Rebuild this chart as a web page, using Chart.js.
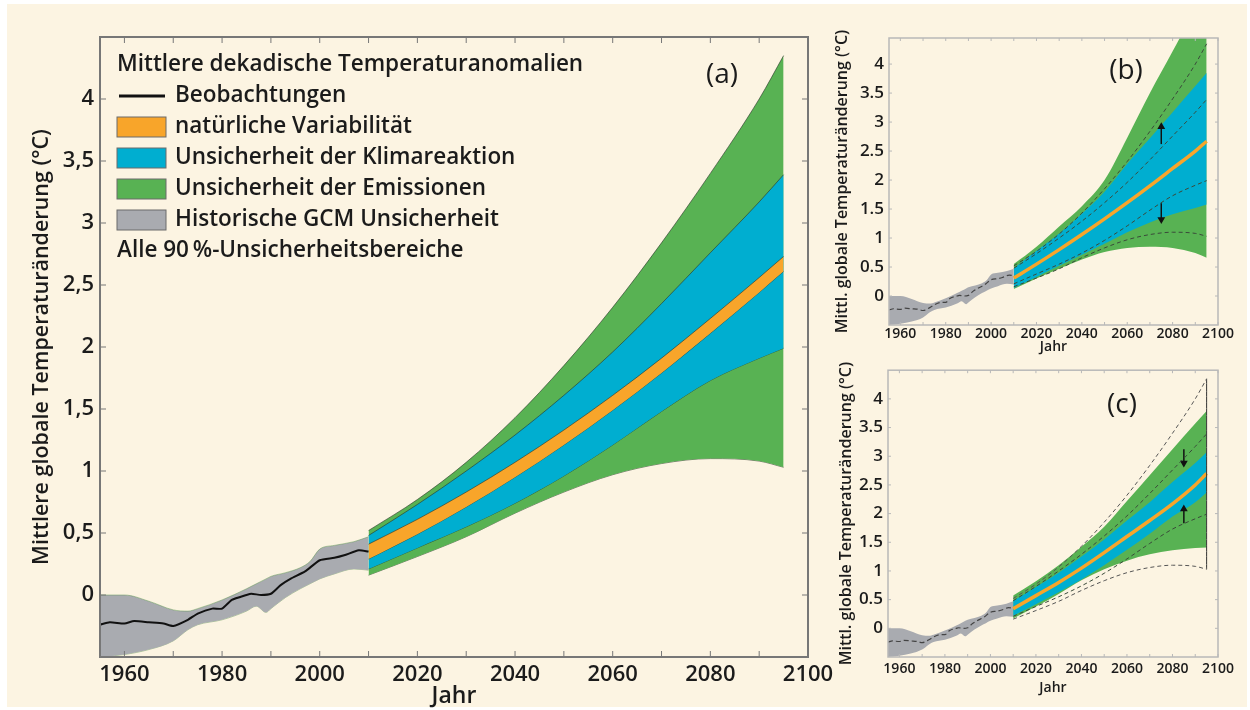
<!DOCTYPE html>
<html>
<head>
<meta charset="utf-8">
<script src="https://cdn.jsdelivr.net/npm/chart.js@4.4.1/dist/chart.umd.min.js"></script>
<style>
body { margin: 0; width: 1250px; height: 710px; overflow: hidden; background: #fff; }
#bg { position: absolute; left: 7px; top: 4px; width: 1240px; height: 703px; background: #fcf4e2; }
.box { position: absolute; }
</style>
</head>
<body>
<div id="bg"></div>
<div class="box" style="left:0;top:0;width:850px;height:710px"><canvas id="ca"></canvas></div>
<div class="box" style="left:830px;top:0;width:420px;height:355px"><canvas id="cb"></canvas></div>
<div class="box" style="left:830px;top:355px;width:420px;height:355px"><canvas id="cc"></canvas></div>
<script>
// axis ticks
const xTicks = [1960, 1970, 1980, 1990, 2000, 2010, 2020, 2030, 2040, 2050, 2060, 2070, 2080, 2090, 2100]
const yTicks = [0, 0.5, 1, 1.5, 2, 2.5, 3, 3.5, 4]

// history 1955-2010 (same in all panels)
const histYears = [1955, 1960, 1965, 1970, 1973, 1975, 1980, 1985, 1987, 1989, 1990, 1993, 1996, 1998, 2000, 2003, 2007, 2010]
const histUpper = [0.0, 0.0, -0.05, -0.12, -0.13, -0.11, -0.04, 0.05, 0.09, 0.13, 0.15, 0.18, 0.22, 0.27, 0.37, 0.40, 0.43, 0.47]
const histLower = [-0.5, -0.48, -0.44, -0.37, -0.28, -0.24, -0.20, -0.13, -0.09, -0.14, -0.11, -0.02, 0.05, 0.09, 0.13, 0.17, 0.21, 0.20]
const obsYears = [1955, 1957, 1960, 1962, 1965, 1968, 1970, 1973, 1975, 1978, 1980, 1982, 1985, 1986, 1988, 1990, 1992, 1994, 1997, 2000, 2003, 2005, 2008, 2010]
const obsValues = [-0.24, -0.22, -0.23, -0.21, -0.22, -0.23, -0.25, -0.20, -0.15, -0.11, -0.11, -0.04, 0.0, 0.01, 0.0, 0.01, 0.08, 0.13, 0.19, 0.28, 0.30, 0.32, 0.36, 0.35]

// projections
const projYears = [2010, 2020, 2030, 2040, 2050, 2060, 2070, 2080, 2090, 2095]
// (a)
const aEmisUpper = [0.52, 0.77, 1.07, 1.43, 1.85, 2.32, 2.84, 3.40, 4.00, 4.35]
const aClimUpper = [0.48, 0.73, 1.00, 1.29, 1.61, 1.96, 2.35, 2.76, 3.17, 3.39]
const aNatUpper = [0.41, 0.61, 0.83, 1.07, 1.33, 1.61, 1.91, 2.23, 2.56, 2.73]
const aNatLower = [0.29, 0.49, 0.71, 0.95, 1.21, 1.49, 1.79, 2.11, 2.44, 2.61]
const aClimLower = [0.21, 0.38, 0.55, 0.74, 0.96, 1.21, 1.48, 1.73, 1.91, 1.99]
const aEmisLower = [0.16, 0.31, 0.47, 0.66, 0.83, 0.97, 1.06, 1.10, 1.08, 1.03]
// (b)
const bEmisUpper = [0.55, 0.85, 1.20, 1.55, 2.00, 2.73, 3.50, 4.22, 4.95, 5.30]
const bClimUpper = [0.48, 0.78, 1.08, 1.42, 1.80, 2.28, 2.72, 3.17, 3.62, 3.85]
const bNat = [0.31, 0.55, 0.80, 1.06, 1.33, 1.61, 1.90, 2.20, 2.50, 2.67]
const bClimLower = [0.14, 0.33, 0.52, 0.71, 0.90, 1.10, 1.27, 1.41, 1.52, 1.58]
const bEmisLower = [0.12, 0.30, 0.47, 0.63, 0.76, 0.83, 0.85, 0.83, 0.74, 0.66]
// (c)
const cEmisUpper = [0.57, 0.82, 1.10, 1.42, 1.77, 2.22, 2.67, 3.12, 3.57, 3.79]
const cClimUpper = [0.48, 0.72, 0.97, 1.25, 1.55, 1.88, 2.20, 2.55, 2.88, 3.07]
const cNat = [0.34, 0.57, 0.80, 1.05, 1.32, 1.60, 1.88, 2.17, 2.50, 2.70]
const cClimLower = [0.22, 0.42, 0.63, 0.85, 1.10, 1.37, 1.65, 1.95, 2.20, 2.37]
const cEmisLower = [0.17, 0.38, 0.60, 0.84, 1.03, 1.18, 1.29, 1.36, 1.40, 1.41]
// arrows: [year, tail, head]
const bArrows = [[2075, 2.62, 2.92], [2075, 1.60, 1.32]]
const cArrows = [[2085, 3.12, 2.88], [2085, 1.83, 2.08]]

const legendTitle = 'Mittlere dekadische Temperaturanomalien'
const legendLabels = ['Beobachtungen', 'natürliche Variabilität', 'Unsicherheit der Klimareaktion', 'Unsicherheit der Emissionen', 'Historische GCM Unsicherheit']
const legendNote = 'Alle 90\u2009%-Unsicherheitsbereiche'
const panelLabels = ['(a)', '(b)', '(c)']
const xTitle = 'Jahr'
const yTitleA = 'Mittlere globale Temperaturänderung (°C)'
const yTitleSmall = 'Mittl. globale Temperaturänderung (°C)'

const GREEN = '#58b253'
const BLUE = '#00aed0'
const ORANGE = '#f8a52a'
const GRAY = '#a9abb0'
const EDGE = 'rgba(40,50,40,0.75)'
const INK = '#1b1b1b'

Chart.defaults.font.family = "'Open Sans', sans-serif"
Chart.defaults.color = INK

const pts = (xs, ys) => xs.map((x, i) => ({x: x, y: ys[i]}))

const framePlugin = {
  id: 'frame',
  afterDatasetsDraw(chart, args, opts) {
    const {ctx, chartArea: a, scales: {x, y}} = chart
    ctx.save()
    ctx.strokeStyle = opts.color
    ctx.lineWidth = 1
    ctx.beginPath()
    x.ticks.forEach(t => {
      const px = x.getPixelForValue(t.value)
      ctx.moveTo(px, a.bottom); ctx.lineTo(px, a.bottom - opts.len)
      ctx.moveTo(px, a.top); ctx.lineTo(px, a.top + opts.len)
    })
    y.ticks.forEach(t => {
      const py = y.getPixelForValue(t.value)
      ctx.moveTo(a.left, py); ctx.lineTo(a.left + opts.len, py)
      ctx.moveTo(a.right, py); ctx.lineTo(a.right - opts.len, py)
    })
    ctx.stroke()
    ctx.lineWidth = opts.width
    ctx.strokeRect(a.left, a.top, a.right - a.left, a.bottom - a.top)
    ctx.restore()
  }
}

const labelPlugin = {
  id: 'panelLabel',
  afterDraw(chart, args, opts) {
    const ctx = chart.ctx
    ctx.save()
    ctx.font = `${opts.size}px 'Open Sans', sans-serif`
    ctx.fillStyle = INK
    ctx.textAlign = 'center'
    ctx.textBaseline = 'middle'
    ctx.fillText(opts.text, opts.x, opts.y)
    ctx.restore()
  }
}

const legendPlugin = {
  id: 'bandLegend',
  afterDraw(chart) {
    const ctx = chart.ctx
    const colors = [null, ORANGE, BLUE, GREEN, GRAY]
    const x0 = 117, y0 = 65, step = 31
    ctx.save()
    ctx.font = "600 22.5px 'Open Sans', sans-serif"
    ctx.fillStyle = INK
    ctx.textBaseline = 'middle'
    ctx.fillText(legendTitle, x0, y0)
    legendLabels.forEach((label, i) => {
      const yy = y0 + step * (i + 1)
      if (colors[i]) {
        ctx.fillStyle = colors[i]
        ctx.fillRect(x0, yy - 10, 49, 20)
        ctx.strokeStyle = '#6b6b6b'
        ctx.lineWidth = 1
        ctx.strokeRect(x0, yy - 10, 49, 20)
      } else {
        ctx.strokeStyle = '#111'
        ctx.lineWidth = 3
        ctx.beginPath(); ctx.moveTo(x0 + 2, yy); ctx.lineTo(x0 + 48, yy); ctx.stroke()
      }
      ctx.fillStyle = INK
      ctx.fillText(label, x0 + 58, yy)
    })
    ctx.fillText(legendNote, x0, y0 + step * 6)
    ctx.restore()
  }
}

function band(upper, lower, xs, color, order, edge, width) {
  return [
    {data: pts(xs, upper), fill: '+1', backgroundColor: color, borderColor: edge, borderWidth: width, order: order},
    {data: pts(xs, lower), fill: false, borderColor: edge, borderWidth: width, order: order}
  ]
}

function dashed(ys, color) {
  return {data: pts(projYears, ys), borderColor: color, borderWidth: 1, borderDash: [4, 3], fill: false, order: 0}
}

function arrow(a) {
  const up = a[2] > a[1]
  return {data: [{x: a[0], y: a[1]}, {x: a[0], y: a[2]}], borderColor: '#111', backgroundColor: '#111',
    borderWidth: 1.5, pointRadius: [0, 3], pointStyle: 'triangle', rotation: up ? 0 : 180, order: 0}
}

function scales(o) {
  return {
    x: {
      type: 'linear', min: 1955, max: 2100,
      afterBuildTicks: s => { s.ticks = xTicks.map(v => ({value: v})) },
      afterFit: s => { s.height = o.xh },
      grid: {display: false, drawTicks: false},
      border: {display: false},
      ticks: {autoSkip: false, maxRotation: 0, padding: o.xpad,
        font: {size: o.xfs, weight: 600},
        callback: v => v % 20 === 0 ? String(v) : ''},
      title: {display: true, text: xTitle, font: {size: o.xtfs, weight: 600, lineHeight: 1.2}, padding: {top: 0, bottom: o.xtpad}}
    },
    y: {
      type: 'linear', min: -0.5, max: o.ymax,
      afterBuildTicks: s => { s.ticks = yTicks.map(v => ({value: v})) },
      afterFit: s => { s.width = o.yw },
      grid: {display: false, drawTicks: false},
      border: {display: false},
      ticks: {autoSkip: false, padding: o.ypad, font: {size: o.yfs, weight: 600},
        callback: v => o.comma ? String(v).replace('.', ',') : String(v)},
      title: {display: true, text: o.ytitle, font: {size: o.ytfs, weight: 600, lineHeight: 1.2}, padding: {top: o.ytpad, bottom: 0}}
    }
  }
}

function baseOptions(o, pad, label, frame) {
  return {
    responsive: true, maintainAspectRatio: false, animation: false,
    layout: {padding: pad},
    elements: {point: {radius: 0}, line: {cubicInterpolationMode: 'monotone'}},
    plugins: {legend: {display: false}, tooltip: {enabled: false}, panelLabel: label, frame: frame},
    scales: scales(o)
  }
}

// (a)
new Chart(document.getElementById('ca'), {
  type: 'line',
  data: {datasets: [
    {data: pts(obsYears, obsValues), borderColor: '#111', borderWidth: 2, fill: false, order: 0, cubicInterpolationMode: 'default', tension: 0.2},
    ...band(aNatUpper, aNatLower, projYears, ORANGE, 1, EDGE, 0.8),
    ...band(aClimUpper, aClimLower, projYears, BLUE, 2, EDGE, 0.8),
    ...band(aEmisUpper, aEmisLower, projYears, GREEN, 3, EDGE, 0.8),
    ...band(histUpper, histLower, histYears, GRAY, 4, 'rgba(90,150,80,0.6)', 0.8)
  ]},
  options: baseOptions({xh: 53, xpad: 5, xfs: 22, xtfs: 23, xtpad: 0, ymax: 4.5, yw: 100, ypad: 6, yfs: 22,
    comma: true, ytitle: yTitleA, ytfs: 21.5, ytpad: 29},
    {left: 0, top: 37, right: 42, bottom: 0},
    {text: panelLabels[0], x: 722, y: 75, size: 28},
    {color: '#777', width: 2, len: 6}),
  plugins: [framePlugin, labelPlugin, legendPlugin]
})

// (b)
new Chart(document.getElementById('cb'), {
  type: 'line',
  data: {datasets: [
    {data: pts(obsYears, obsValues), borderColor: '#444', borderWidth: 1.2, borderDash: [5, 3], fill: false, order: 0},
    {data: pts(projYears, bNat), borderColor: ORANGE, borderWidth: 3.5, fill: false, order: 1},
    dashed(aEmisUpper, '#3a4a3a'), dashed(aClimUpper, '#3a4a3a'), dashed(aClimLower, '#3a4a3a'), dashed(aEmisLower, '#3a4a3a'),
    arrow(bArrows[0]), arrow(bArrows[1]),
    ...band(bClimUpper, bClimLower, projYears, BLUE, 2, 'rgba(0,0,0,0)', 0),
    ...band(bEmisUpper, bEmisLower, projYears, GREEN, 3, 'rgba(0,0,0,0)', 0),
    ...band(histUpper, histLower, histYears, GRAY, 4, 'rgba(0,0,0,0)', 0)
  ]},
  options: baseOptions({xh: 30, xpad: 1, xfs: 14, xtfs: 14, xtpad: 0, ymax: 4.45, yw: 59, ypad: 5, yfs: 17,
    comma: false, ytitle: yTitleSmall, ytfs: 16, ytpad: 3},
    {left: 0, top: 38, right: 32, bottom: 0},
    {text: panelLabels[1], x: 296, y: 71, size: 28},
    {color: '#b8b8b8', width: 1.5, len: 3}),
  plugins: [framePlugin, labelPlugin]
})

// (c)
new Chart(document.getElementById('cc'), {
  type: 'line',
  data: {datasets: [
    {data: pts(obsYears, obsValues), borderColor: '#444', borderWidth: 1.2, borderDash: [5, 3], fill: false, order: 0},
    {data: pts(projYears, cNat), borderColor: ORANGE, borderWidth: 3.5, fill: false, order: 1},
    dashed(aEmisUpper, '#555'), dashed(aClimUpper, '#3a4a3a'), dashed(aClimLower, '#3a4a3a'), dashed(aEmisLower, '#555'),
    {data: [{x: projYears[projYears.length - 1], y: aEmisLower[aEmisLower.length - 1]},
            {x: projYears[projYears.length - 1], y: aEmisUpper[aEmisUpper.length - 1]}],
     borderColor: '#333', borderWidth: 1, fill: false, order: 0},
    arrow(cArrows[0]), arrow(cArrows[1]),
    ...band(cClimUpper, cClimLower, projYears, BLUE, 2, 'rgba(0,0,0,0)', 0),
    ...band(cEmisUpper, cEmisLower, projYears, GREEN, 3, 'rgba(0,0,0,0)', 0),
    ...band(histUpper, histLower, histYears, GRAY, 4, 'rgba(0,0,0,0)', 0)
  ]},
  options: baseOptions({xh: 53, xpad: 4, xfs: 14, xtfs: 14, xtpad: 14, ymax: 4.5, yw: 58, ypad: 5, yfs: 17,
    comma: false, ytitle: yTitleSmall, ytfs: 16, ytpad: 7},
    {left: 0, top: 14, right: 32, bottom: 0},
    {text: panelLabels[2], x: 292, y: 50, size: 28},
    {color: '#b8b8b8', width: 1.5, len: 3}),
  plugins: [framePlugin, labelPlugin]
})
</script>
</body>
</html>
